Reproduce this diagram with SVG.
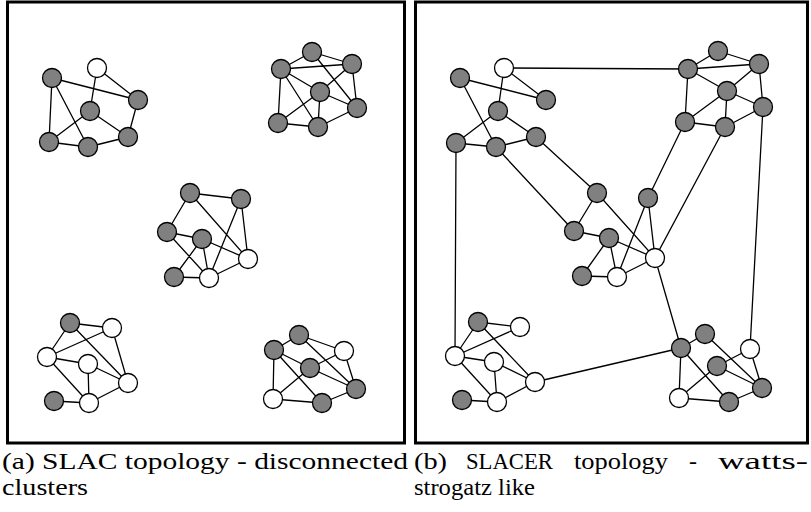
<svg xmlns="http://www.w3.org/2000/svg" width="811" height="512" viewBox="0 0 811 512">
<style>
.frame{fill:none;stroke:#000;stroke-width:3}
.e{stroke:#000;stroke-width:1.3;fill:none}
.g{fill:#808080;stroke:#000;stroke-width:1.3}
.w{fill:#fff;stroke:#000;stroke-width:1.3}
.cap{font-family:"Liberation Serif","DejaVu Serif",serif;font-size:24px;fill:#000}
</style>
<rect width="811" height="512" fill="#fff"/>
<rect class="frame" x="7.5" y="2" width="397" height="441"/>
<rect class="frame" x="415.5" y="2" width="392" height="441"/>
<g id="connectors" class="e">
<path d="M52,78L138,100M52,78L49,142M52,78L88,147M97,68L90,111M97,68L138,100M138,100L128,137M90,111L49,142M90,111L128,137M49,142L88,147M88,147L128,137"/>
<path d="M312,52L281,69M312,52L352,64M312,52L357,108M281,69L352,64M281,69L320,92M281,69L278,123M281,69L318,127M352,64L320,92M352,64L357,108M320,92L357,108M320,92L278,123M320,92L318,127M357,108L318,127M278,123L318,127"/>
<path d="M190,193L241,199M190,193L167,232M190,193L248,259M241,199L248,259M241,199L209,278M167,232L202,239M167,232L209,278M202,239L174,277M202,239L209,278M202,239L248,259M174,277L209,278M209,278L248,259"/>
<path d="M70,323L112,328M70,323L47,357M70,323L128,383M112,328L47,357M112,328L128,383M47,357L88,364M47,357L89,403M88,364L89,403M88,364L128,383M54,401L89,403M89,403L128,383"/>
<path d="M299,335L274,350M299,335L344,351M299,335L356,389M274,350L310,368M274,350L273,399M274,350L322,403M344,351L310,368M344,351L356,389M310,368L356,389M310,368L273,399M273,399L322,403M322,403L356,389"/>
<path d="M460,78L546,100M460,78L496,147M504,68L498,111M504,68L546,100M498,111L456,143M498,111L536,137M456,143L496,147M496,147L536,137"/>
<path d="M718,51L688,69M718,51L759,64M688,69L759,64M688,69L727,91M688,69L685,122M759,64L727,91M759,64L763,107M727,91L763,107M727,91L685,122M727,91L725,127M763,107L725,127M685,122L725,127"/>
<path d="M597,193L574,231M597,193L655,258M648,198L655,258M648,198L617,277M574,231L609,238M609,238L582,276M609,238L617,277M609,238L655,258M582,276L617,277M617,277L655,258"/>
<path d="M478,322L520,327M478,322L455,356M478,322L535,382M520,327L455,356M455,356L494,362M455,356L497,402M494,362L497,402M494,362L535,382M462,400L497,402M497,402L535,382"/>
<path d="M705,334L681,348M705,334L762,388M681,348L679,398M681,348L729,402M750,349L717,366M750,349L762,388M717,366L762,388M717,366L679,398M679,398L729,402M729,402L762,388"/>
<path d="M504,68L688,69M456,143L455,356M496,147L574,231M536,137L597,193M685,122L648,198M725,127L655,258M763,107L750,349M655,258L681,348M535,382L681,348"/>
</g>
<g id="a1"><circle class="g" cx="52" cy="78" r="9.5"/></g>
<g id="a2"><circle class="w" cx="97" cy="68" r="9.5"/></g>
<g id="a3"><circle class="g" cx="138" cy="100" r="9.5"/></g>
<g id="a4"><circle class="g" cx="90" cy="111" r="9.5"/></g>
<g id="a5"><circle class="g" cx="49" cy="142" r="9.5"/></g>
<g id="a6"><circle class="g" cx="88" cy="147" r="9.5"/></g>
<g id="a7"><circle class="g" cx="128" cy="137" r="9.5"/></g>
<g id="b1"><circle class="g" cx="312" cy="52" r="9.5"/></g>
<g id="b2"><circle class="g" cx="281" cy="69" r="9.5"/></g>
<g id="b3"><circle class="g" cx="352" cy="64" r="9.5"/></g>
<g id="b4"><circle class="g" cx="320" cy="92" r="9.5"/></g>
<g id="b5"><circle class="g" cx="357" cy="108" r="9.5"/></g>
<g id="b6"><circle class="g" cx="278" cy="123" r="9.5"/></g>
<g id="b7"><circle class="g" cx="318" cy="127" r="9.5"/></g>
<g id="c1"><circle class="g" cx="190" cy="193" r="9.5"/></g>
<g id="c2"><circle class="g" cx="241" cy="199" r="9.5"/></g>
<g id="c3"><circle class="g" cx="167" cy="232" r="9.5"/></g>
<g id="c4"><circle class="g" cx="202" cy="239" r="9.5"/></g>
<g id="c5"><circle class="w" cx="248" cy="259" r="9.5"/></g>
<g id="c6"><circle class="g" cx="174" cy="277" r="9.5"/></g>
<g id="c7"><circle class="w" cx="209" cy="278" r="9.5"/></g>
<g id="d1"><circle class="g" cx="70" cy="323" r="9.5"/></g>
<g id="d2"><circle class="w" cx="112" cy="328" r="9.5"/></g>
<g id="d3"><circle class="w" cx="47" cy="357" r="9.5"/></g>
<g id="d4"><circle class="w" cx="88" cy="364" r="9.5"/></g>
<g id="d5"><circle class="w" cx="128" cy="383" r="9.5"/></g>
<g id="d6"><circle class="g" cx="54" cy="401" r="9.5"/></g>
<g id="d7"><circle class="w" cx="89" cy="403" r="9.5"/></g>
<g id="e1"><circle class="g" cx="299" cy="335" r="9.5"/></g>
<g id="e2"><circle class="g" cx="274" cy="350" r="9.5"/></g>
<g id="e3"><circle class="w" cx="344" cy="351" r="9.5"/></g>
<g id="e4"><circle class="g" cx="310" cy="368" r="9.5"/></g>
<g id="e5"><circle class="g" cx="356" cy="389" r="9.5"/></g>
<g id="e6"><circle class="w" cx="273" cy="399" r="9.5"/></g>
<g id="e7"><circle class="g" cx="322" cy="403" r="9.5"/></g>
<g id="f1"><circle class="g" cx="460" cy="78" r="9.5"/></g>
<g id="f2"><circle class="w" cx="504" cy="68" r="9.5"/></g>
<g id="f3"><circle class="g" cx="546" cy="100" r="9.5"/></g>
<g id="f4"><circle class="g" cx="498" cy="111" r="9.5"/></g>
<g id="f5"><circle class="g" cx="456" cy="143" r="9.5"/></g>
<g id="f6"><circle class="g" cx="496" cy="147" r="9.5"/></g>
<g id="f7"><circle class="g" cx="536" cy="137" r="9.5"/></g>
<g id="u1"><circle class="g" cx="718" cy="51" r="9.5"/></g>
<g id="u2"><circle class="g" cx="688" cy="69" r="9.5"/></g>
<g id="u3"><circle class="g" cx="759" cy="64" r="9.5"/></g>
<g id="u4"><circle class="g" cx="727" cy="91" r="9.5"/></g>
<g id="u5"><circle class="g" cx="763" cy="107" r="9.5"/></g>
<g id="u6"><circle class="g" cx="685" cy="122" r="9.5"/></g>
<g id="u7"><circle class="g" cx="725" cy="127" r="9.5"/></g>
<g id="t1"><circle class="g" cx="597" cy="193" r="9.5"/></g>
<g id="t2"><circle class="g" cx="648" cy="198" r="9.5"/></g>
<g id="t3"><circle class="g" cx="574" cy="231" r="9.5"/></g>
<g id="t4"><circle class="g" cx="609" cy="238" r="9.5"/></g>
<g id="t5"><circle class="w" cx="655" cy="258" r="9.5"/></g>
<g id="t6"><circle class="g" cx="582" cy="276" r="9.5"/></g>
<g id="t7"><circle class="w" cx="617" cy="277" r="9.5"/></g>
<g id="x1"><circle class="g" cx="478" cy="322" r="9.5"/></g>
<g id="x2"><circle class="w" cx="520" cy="327" r="9.5"/></g>
<g id="x3"><circle class="w" cx="455" cy="356" r="9.5"/></g>
<g id="x4"><circle class="w" cx="494" cy="362" r="9.5"/></g>
<g id="x5"><circle class="w" cx="535" cy="382" r="9.5"/></g>
<g id="x6"><circle class="g" cx="462" cy="400" r="9.5"/></g>
<g id="x7"><circle class="w" cx="497" cy="402" r="9.5"/></g>
<g id="v1"><circle class="g" cx="705" cy="334" r="9.5"/></g>
<g id="v2"><circle class="g" cx="681" cy="348" r="9.5"/></g>
<g id="v3"><circle class="w" cx="750" cy="349" r="9.5"/></g>
<g id="v4"><circle class="g" cx="717" cy="366" r="9.5"/></g>
<g id="v5"><circle class="g" cx="762" cy="388" r="9.5"/></g>
<g id="v6"><circle class="w" cx="679" cy="398" r="9.5"/></g>
<g id="v7"><circle class="g" cx="729" cy="402" r="9.5"/></g>
<text class="cap" x="2" y="469" textLength="406" lengthAdjust="spacingAndGlyphs">(a) SLAC topology - disconnected</text>
<text class="cap" x="2" y="495" textLength="86" lengthAdjust="spacingAndGlyphs">clusters</text>
<text class="cap" x="414" y="469" textLength="33" lengthAdjust="spacingAndGlyphs">(b)</text>
<text class="cap" x="466" y="469" textLength="87" lengthAdjust="spacingAndGlyphs">SLACER</text>
<text class="cap" x="574" y="469" textLength="94" lengthAdjust="spacingAndGlyphs">topology</text>
<text class="cap" x="689" y="469" textLength="8" lengthAdjust="spacingAndGlyphs">-</text>
<text class="cap" x="718" y="469" textLength="90" lengthAdjust="spacingAndGlyphs">watts-</text>
<text class="cap" x="414" y="495" textLength="121" lengthAdjust="spacingAndGlyphs">strogatz like</text>
</svg>
